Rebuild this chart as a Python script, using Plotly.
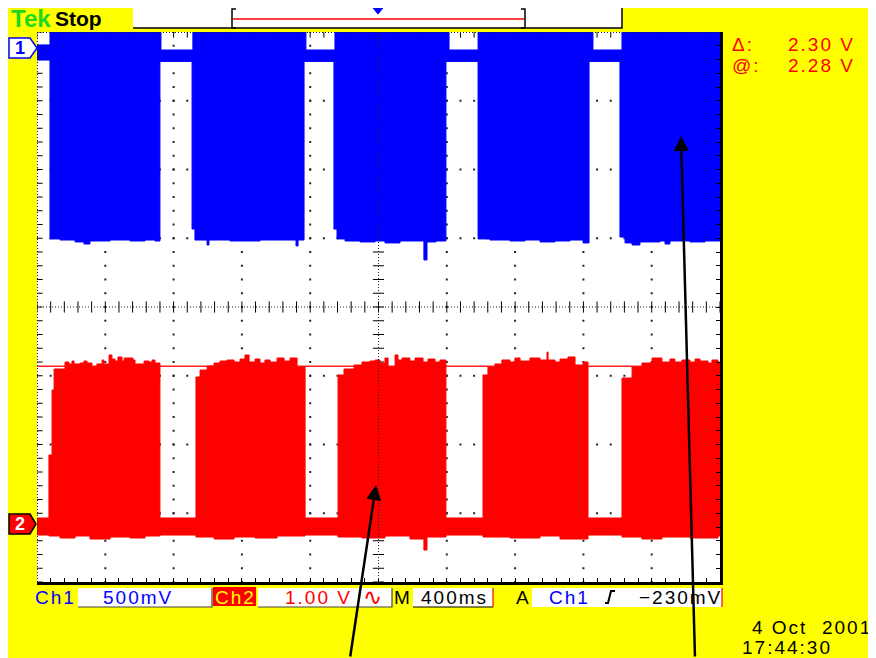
import numpy as np
import plotly.graph_objects as go

# ---------------- scope settings ----------------
time_per_div = 0.4          # M 400ms
ch1_scale_label = "500mV"
ch2_scale_label = "1.00 V"
time_label = "400ms"
trigger_label = "−230mV"
cursor_delta_label = "2.30 V"
cursor_at_label = "2.28 V"
cursor_at = 2.28             # V on Ch2
cursor_delta = 2.30          # V
date_label = "4 Oct  2001"
clock_label = "17:44:30"

time_range = [-2.0, 2.0]     # s
ch1_range = [-3.891, 0.109]  # V  (Ch1 ground marker near the top)
ch2_range = [-0.858, 7.142]  # V  (Ch2 ground marker near the bottom)

# ---------------- Ch1 (blue) envelope: time [s] / volts ----------------
ch1_upper_t = [-2.000, -1.924, -1.274, -1.087, -0.425, -0.255, 0.413, 0.583, 1.256, 1.426, 2.000]
ch1_upper_v = [0.015, 0.300, -0.022, 0.300, -0.022, 0.300, -0.022, 0.300, -0.022, 0.300, 0.300]

ch1_lower_t = [-2.000, -1.924, -1.865, -1.777, -1.725, -1.690, -1.572, -1.455, -1.367, -1.309, -1.280,
               -1.092, -1.075, -1.004, -0.993, -0.870, -0.694, -0.483, -0.471, -0.436,
               -0.261, -0.243, -0.196, -0.108, -0.020, 0.038, 0.126, 0.266, 0.284, 0.337, 0.395,
               0.583, 0.653, 0.770, 0.858, 0.946, 1.034, 1.122, 1.198, 1.233,
               1.414, 1.444, 1.485, 1.531, 1.649, 1.678, 1.707, 1.824, 1.912, 2.000]
ch1_lower_v = [-0.095, -1.396, -1.404, -1.418, -1.433, -1.411, -1.404, -1.411, -1.404, -1.411, -0.105,
               -1.324, -1.404, -1.440, -1.404, -1.411, -1.404, -1.447, -1.404, -0.105,
               -1.324, -1.396, -1.411, -1.418, -1.411, -1.425, -1.411, -1.549, -1.418, -1.411, -0.105,
               -1.396, -1.404, -1.411, -1.404, -1.418, -1.411, -1.404, -1.425, -0.105,
               -1.382, -1.425, -1.440, -1.418, -1.411, -1.433, -1.411, -1.418, -1.411, -1.411]

# ---------------- Ch2 (red) envelope: time [s] / volts ----------------
ch2_upper_t = [-2.000,
               -1.930, -1.912, -1.900, -1.836, -1.813, -1.795, -1.783, -1.748, -1.725, -1.707, -1.678,
               -1.649, -1.619, -1.608, -1.578, -1.561, -1.543, -1.526, -1.502, -1.490, -1.438, -1.426,
               -1.373, -1.344, -1.326, -1.309,
               -1.280,
               -1.069, -1.045, -1.004, -0.963, -0.928, -0.887, -0.846, -0.811, -0.782, -0.758, -0.723,
               -0.694, -0.665, -0.635, -0.594, -0.553, -0.518, -0.477,
               -0.430,
               -0.237, -0.202, -0.143, -0.097, -0.050, -0.020, 0.009, 0.038, 0.056, 0.097, 0.114,
               0.138, 0.184, 0.214, 0.261, 0.290, 0.331, 0.360,
               0.395,
               0.612, 0.641, 0.682, 0.723, 0.770, 0.799, 0.829, 0.887, 0.946, 0.987, 0.993,
               1.034, 1.063, 1.110, 1.151, 1.198,
               1.227,
               1.426, 1.485, 1.543, 1.602, 1.660, 1.707, 1.736, 1.777, 1.824, 1.854, 1.883,
               1.930, 1.953, 1.988, 2.000]
ch2_upper_v = [0.073,
               0.989, 1.935, 2.240, 2.342, 2.313, 2.356, 2.313, 2.327, 2.356, 2.327, 2.269,
               2.313, 2.371, 2.313, 2.444, 2.385, 2.356, 2.415, 2.356, 2.400, 2.371, 2.313,
               2.356, 2.342, 2.371, 2.327,
               0.073,
               2.124, 2.225, 2.284, 2.327, 2.356, 2.371, 2.342, 2.385, 2.444, 2.342, 2.385,
               2.327, 2.371, 2.342, 2.400, 2.356, 2.400, 2.269,
               0.073,
               2.153, 2.240, 2.298, 2.342, 2.356, 2.371, 2.327, 2.400, 2.269, 2.444, 2.371,
               2.400, 2.356, 2.400, 2.342, 2.385, 2.342, 2.371,
               0.073,
               2.153, 2.269, 2.313, 2.371, 2.342, 2.400, 2.356, 2.400, 2.371, 2.487, 2.371,
               2.342, 2.385, 2.415, 2.298, 2.342,
               0.073,
               2.109, 2.269, 2.327, 2.400, 2.342, 2.385, 2.342, 2.371, 2.342, 2.385, 2.356,
               2.327, 2.371, 2.342, 2.342]

ch2_lower_t = [-2.000, -1.930, -1.865, -1.777, -1.690, -1.572, -1.455, -1.367, -1.280,
               -1.069, -0.963, -0.846, -0.723, -0.594, -0.430,
               -0.237, -0.097, 0.038, 0.184, 0.266, 0.284, 0.395,
               0.612, 0.770, 0.946, 1.063, 1.227,
               1.426, 1.543, 1.660, 1.824, 1.988, 2.000]
ch2_lower_v = [-0.175, -0.189, -0.218, -0.189, -0.233, -0.204, -0.218, -0.189, -0.175,
               -0.204, -0.233, -0.204, -0.218, -0.189, -0.175,
               -0.204, -0.218, -0.189, -0.233, -0.393, -0.204, -0.175,
               -0.204, -0.218, -0.189, -0.233, -0.175,
               -0.204, -0.233, -0.204, -0.218, -0.189, -0.189]

# ---------------- page geometry ----------------
# the figure sits at (8, 8) inside the page (default body margin), so the
# figure is 8 px smaller than the window in each direction; all positions below
# are given in page pixels and converted by fx / fy.
OFF = 8
W, H = 876 - OFF, 658 - OFF
PL, PR, PT, PB = 37, 720, 32, 582     # graticule box on the page


def fx(p):
    return (p - PL) / (PR - PL)


def fy(p):
    return (PB - p) / (PB - PT)


YELLOW = "#FFFF00"
BLUE = "#0000FF"
RED = "#FF0000"
GREEN = "#1ED81E"
FONT = "Liberation Sans, Arial, sans-serif"

fig = go.Figure()

# ---------------- waveforms ----------------
fig.add_trace(go.Scatter(x=ch1_lower_t, y=ch1_lower_v, yaxis="y2", mode="lines",
                         line=dict(color=BLUE, width=1, shape="hv"),
                         hoverinfo="skip", showlegend=False))
fig.add_trace(go.Scatter(x=ch1_upper_t, y=ch1_upper_v, yaxis="y2", mode="lines",
                         line=dict(color=BLUE, width=1, shape="hv"), fill="tonexty",
                         fillcolor=BLUE, hoverinfo="skip", showlegend=False))
fig.add_trace(go.Scatter(x=ch2_lower_t, y=ch2_lower_v, yaxis="y3", mode="lines",
                         line=dict(color=RED, width=1, shape="hv"),
                         hoverinfo="skip", showlegend=False))
fig.add_trace(go.Scatter(x=ch2_upper_t, y=ch2_upper_v, yaxis="y3", mode="lines",
                         line=dict(color=RED, width=1, shape="hv"), fill="tonexty",
                         fillcolor=RED, hoverinfo="skip", showlegend=False))

# ---------------- graticule ----------------
minor_t = np.round(np.arange(time_range[0], time_range[1] + 1e-9, time_per_div / 5), 4)
major_t = np.round(np.arange(time_range[0], time_range[1] + 1e-9, time_per_div), 4)
minor_d = np.round(np.arange(-4, 4 + 1e-9, 0.2), 4)
major_d = np.arange(-4, 5, 1)

gx, gy = [], []
for t in major_t[1:-1]:
    if abs(t) < 1e-9:
        continue
    gx += [t] * len(minor_d)
    gy += list(minor_d)
for d in major_d[1:-1]:
    if d == 0:
        continue
    gx += list(minor_t)
    gy += [d] * len(minor_t)
fig.add_trace(go.Scatter(x=gx, y=gy, mode="markers", hoverinfo="skip", showlegend=False,
                         marker=dict(symbol="square", size=2, color="#222222", line=dict(width=0))))
# tick marks on the centre lines and the top / left edges
fig.add_trace(go.Scatter(x=list(minor_t) * 2, y=[0] * len(minor_t) + [4] * len(minor_t),
                         mode="markers", hoverinfo="skip", showlegend=False,
                         marker=dict(symbol="line-ns", size=8, color="black",
                                     line=dict(width=1, color="black"))))
fig.add_trace(go.Scatter(x=[0] * len(minor_d) + [time_range[0]] * len(minor_d), y=list(minor_d) * 2,
                         mode="markers", hoverinfo="skip", showlegend=False,
                         marker=dict(symbol="line-ew", size=8, color="black",
                                     line=dict(width=1, color="black"))))

shapes = []
# dotted centre lines and top/left borders
for (x0, x1, y0, y1, w) in [(0, 0, -4, 4, 1), (-2, 2, 0, 0, 1), (-2, -2, -4, 4, 2), (-2, 2, 4, 4, 2)]:
    shapes.append(dict(type="line", xref="x", yref="y", x0=x0, x1=x1, y0=y0, y1=y1, layer="above",
                       line=dict(color="#222222", width=w, dash="1px,2px")))
# Ch2 cursors
for v in [cursor_at, cursor_at - cursor_delta]:
    shapes.append(dict(type="line", xref="x", yref="y3", x0=time_range[0], x1=time_range[1],
                       y0=v, y1=v, layer="below", line=dict(color="#FF2020", width=1.5)))


def prect(x0, y0, x1, y1, fill, line=None):
    shapes.append(dict(type="rect", xref="paper", yref="paper", x0=fx(x0), x1=fx(x1),
                       y0=fy(y1), y1=fy(y0), fillcolor=fill,
                       line=dict(width=0) if line is None else line, layer="above"))


def pline(pts, color="black", width=1.5, fill=None):
    path = "M " + " L ".join(f"{fx(a):.5f},{fy(b):.5f}" for a, b in pts)
    if fill:
        path += " Z"
    shapes.append(dict(type="path", xref="paper", yref="paper", path=path, layer="above",
                       fillcolor=fill if fill else "rgba(0,0,0,0)",
                       line=dict(color=color, width=width)))


# record-length bar at top
prect(133, 7, 622, 28, "white")
pline([(133, 28), (622, 28), (622, 7)])
pline([(236, 9), (232, 9), (232, 28), (236, 28)])
pline([(521, 9), (525, 9), (525, 28), (521, 28)])
pline([(233, 19), (524, 19)], color=RED, width=1.5)
pline([(373, 8), (383, 8), (378, 14)], color=BLUE, width=1, fill=BLUE)
# channel ground markers
pline([(9, 38), (30, 38), (37, 48), (30, 58), (9, 58)], color=BLUE, width=1.5, fill="white")
pline([(9, 514), (30, 514), (36, 524), (30, 534), (9, 534)], color="black", width=1.5, fill=RED)
# status bar boxes
prect(78, 588, 212, 607, "white")
pline([(78, 607), (212, 607), (212, 588)], color="#444444", width=1.2)
prect(213, 587, 256, 606, RED)
prect(258, 588, 392, 607, "white")
pline([(258, 607), (392, 607), (392, 588)], color="#444444", width=1.2)
prect(413, 588, 493, 607, "white")
pline([(413, 607), (493, 607)], color="black", width=1.2)
pline([(493, 607), (493, 588)], color=RED, width=1.2)
prect(532, 588, 722, 607, "white")
pline([(722, 607), (722, 588)], color=RED, width=1.2)
# rising-edge trigger symbol
pline([(605, 603), (608, 603), (611, 591), (615, 591)], color="black", width=2)


def label(text, x, y, color, size=19, anchor="left", bold=False, ls=2):
    t = f'<span style="letter-spacing:{ls}px">{text}</span>' if ls else text
    if bold:
        t = f"<b>{t}</b>"
    fig.add_annotation(x=fx(x), y=fy(y), xref="paper", yref="paper", text=t, showarrow=False,
                       xanchor=anchor, yanchor="middle",
                       font=dict(family=FONT, size=size, color=color))


label("Tek", 9, 18, GREEN, size=24, bold=True, ls=0)
label("Stop", 53, 18, "black", size=21, bold=True, ls=0)
label("Δ:", 730, 44, RED, size=19)
label(cursor_delta_label, 857, 44, RED, size=19, anchor="right")
label("@:", 730, 66, RED, size=19)
label(cursor_at_label, 857, 66, RED, size=19, anchor="right")
label("1", 20, 48, BLUE, size=18, anchor="center", bold=True, ls=0)
label("2", 20, 524, "white", size=18, anchor="center", bold=True, ls=0)

label("Ch1", 33, 597, BLUE)
label(ch1_scale_label, 138, 597, BLUE, anchor="center")
label("Ch2", 235, 597, YELLOW, anchor="center")
label(ch2_scale_label, 318, 597, RED, anchor="center")
label("∿", 372, 597, RED, size=23, anchor="center", ls=0)
label("M", 402, 597, "black", anchor="center", ls=0)
label(time_label, 454, 597, "black", anchor="center")
label("A", 522, 597, "black", anchor="center", ls=0)
label("Ch1", 569, 597, BLUE, anchor="center")
label(trigger_label, 724, 597, "black", anchor="right")
label(date_label, 874, 627, "black", anchor="right")
label(clock_label, 740, 647, "black")

# annotation arrows
for tip, ax, ay in [((376, 485), -26, 215), ((681, 136), 14, 564)]:
    fig.add_annotation(x=fx(tip[0]), y=fy(tip[1]), xref="paper", yref="paper", text="",
                       showarrow=True, ax=ax, ay=ay, axref="pixel", ayref="pixel",
                       arrowhead=2, arrowsize=1.2, arrowwidth=2.5, arrowcolor="black", standoff=0)

fig.update_layout(
    width=W, height=H,
    margin=dict(l=PL - OFF, r=(W + OFF) - PR, t=PT - OFF, b=(H + OFF) - PB, pad=0),
    paper_bgcolor=YELLOW, plot_bgcolor="white",
    showlegend=False, shapes=shapes,
    xaxis=dict(range=time_range, showgrid=False, zeroline=False, showticklabels=False,
               ticks="inside", tick0=time_range[0], dtick=time_per_div / 5, ticklen=4,
               tickcolor="black", tickwidth=1, showline=True, linecolor="black", linewidth=3,
               fixedrange=True),
    yaxis=dict(range=[-4, 4], side="right", showgrid=False, zeroline=False,
               showticklabels=False, ticks="inside", tick0=-4, dtick=0.2, ticklen=4,
               tickcolor="black", tickwidth=1, showline=True, linecolor="black", linewidth=3,
               fixedrange=True),
    yaxis2=dict(range=ch1_range, overlaying="y", visible=False, fixedrange=True),
    yaxis3=dict(range=ch2_range, overlaying="y", visible=False, fixedrange=True),
)

fig.write_html("out.html")
